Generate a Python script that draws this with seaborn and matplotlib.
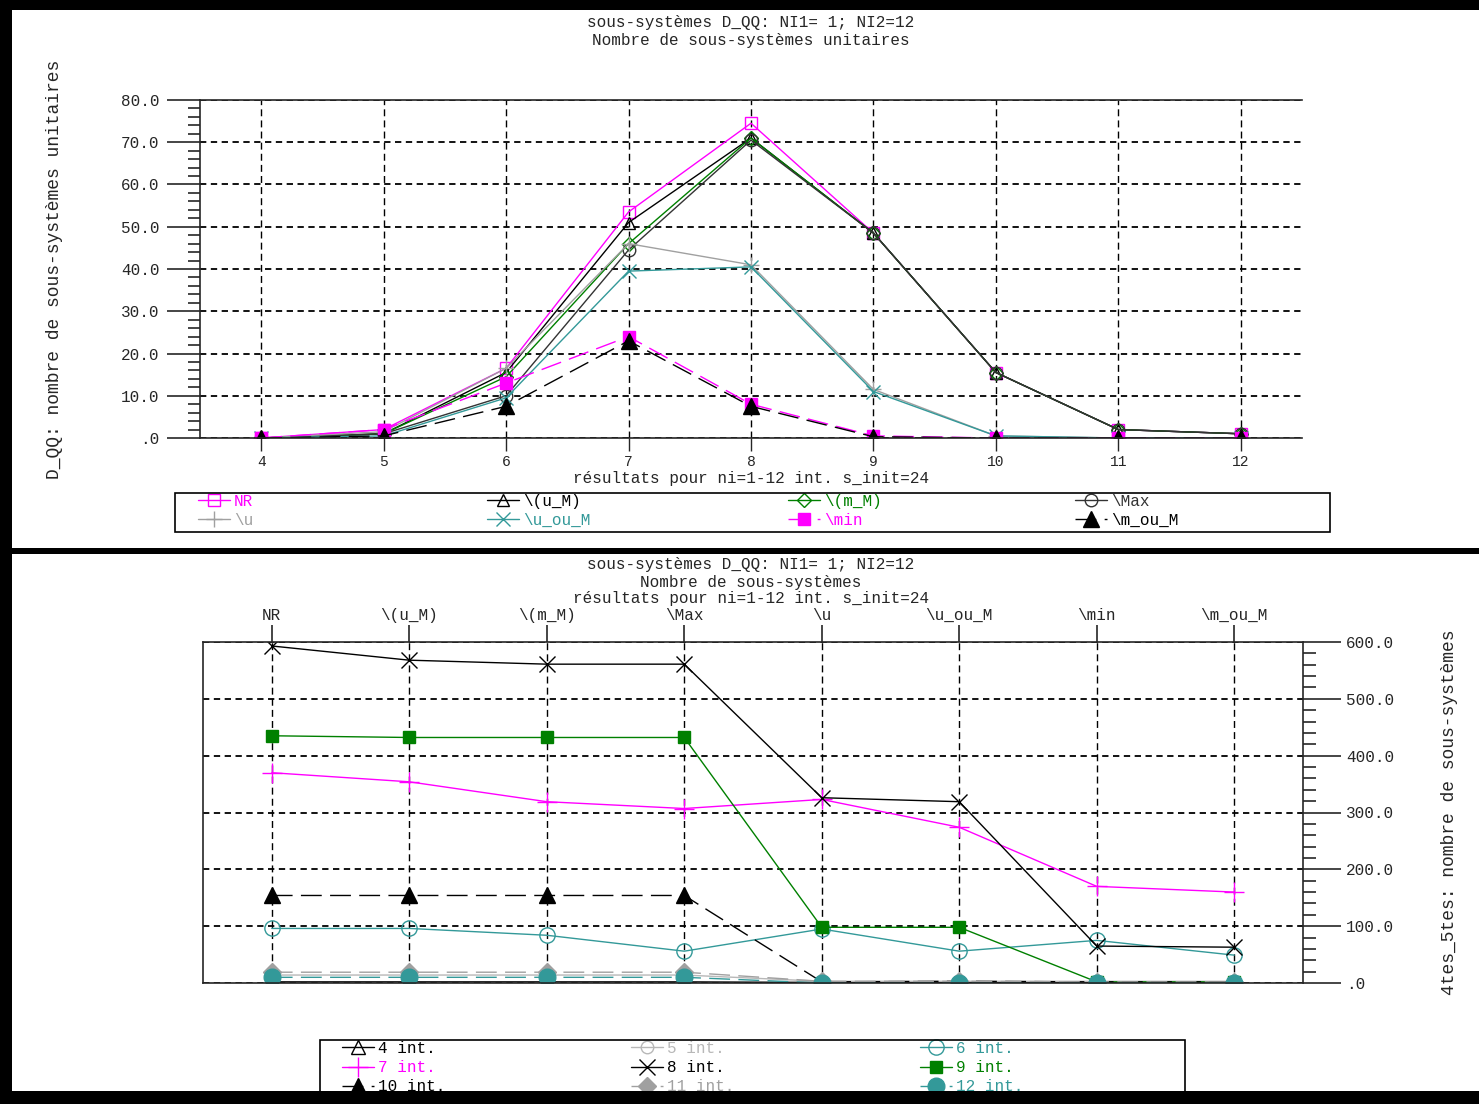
import matplotlib
matplotlib.use('Agg')
import matplotlib.pyplot as plt
import seaborn as sns
from matplotlib.ticker import MultipleLocator, FuncFormatter
from matplotlib.patches import Rectangle

# ---- top panel: unit subsystems vs number of intervals ----
ni = [4, 5, 6, 7, 8, 9, 10, 11, 12]
nr = [0, 2, 16.5, 53.5, 74.5, 48.5, 15.5, 2, 1]
u_M = [0, 1, 15.5, 51, 71, 48.5, 15.5, 2, 1]
m_M = [0, 1, 14.5, 46, 71, 48.5, 15.5, 2, 1]
v_max = [0, 1, 10, 44.5, 70.5, 48.5, 15.5, 2, 1]
v_u = [0, 1.5, 16.5, 46, 41, 11.5, 0.5, 0, 0]
u_ou_M = [0, 0.5, 9.5, 39.5, 40.5, 11, 0.5, 0, 0]
v_min = [0, 2, 13, 24, 8, 0.5, 0, 0, 0]
m_ou_M = [0, 0.5, 7.5, 23, 7.5, 0.3, 0, 0, 0]

# ---- bottom panel: subsystems per method ----
methods = ['NR', '\\(u_M)', '\\(m_M)', '\\Max', '\\u', '\\u_ou_M', '\\min', '\\m_ou_M']
int4 = [2, 2, 2, 2, 1, 1, 1, 1]
int5 = [14, 14, 14, 14, 3, 3, 3, 3]
int6 = [96, 96, 84, 56, 95, 56, 75, 49]
int7 = [370, 354, 319, 307, 323, 274, 170, 160]
int8 = [593, 568, 561, 561, 326, 319, 65, 63]
int9 = [435, 432, 432, 432, 98, 98, 2, 2]
int10 = [154, 154, 154, 154, 2, 3, 2, 2]
int11 = [19, 19, 19, 19, 3, 3, 2, 2]
int12 = [10, 10, 10, 10, 0, 0, 0, 0]

MAG = '#ff00ff'
GREEN = '#008000'
TEAL = '#339999'
GRAY = '#a0a0a0'
LGRAY = '#b8b8b8'
DGRAY = '#333333'

sns.set_style('white')
plt.rcParams['font.family'] = ['Liberation Mono', 'DejaVu Sans Mono']
plt.rcParams['font.size'] = 11.5
plt.rcParams['axes.linewidth'] = 1.2

W, H = 1479, 1104
fig = plt.figure(figsize=(W / 100, H / 100), dpi=100)
fig.patch.set_facecolor('white')


def fx(px):
    return px / W


def fy(py):
    return 1 - py / H


def draw(ax, x, y, label, color, marker, ls='-', fill=False, ms=9):
    sns.lineplot(x=x, y=y, ax=ax, color=color, marker=marker, linestyle=ls, lw=1,
                 markersize=ms, markeredgecolor=color,
                 markerfacecolor=color if fill else 'none', markeredgewidth=1,
                 label=label, legend=False)


def fmt(v, p):
    return f'{v:.1f}'.lstrip('0') if v < 1 else f'{v:.1f}'


def column_legends(handles, labels, ncol, xs, ytop, box, spacing):
    # one small legend per column so columns sit where the original puts them
    for c in range(ncol):
        fig.legend(handles[c::ncol], labels[c::ncol], loc='upper left',
                   bbox_to_anchor=(fx(xs[c]), fy(ytop)), frameon=False,
                   borderaxespad=0, borderpad=0, handlelength=2.0, handletextpad=0.25,
                   labelspacing=spacing, labelcolor='linecolor')
    x0, y0, x1, y1 = box
    fig.add_artist(Rectangle((fx(x0), fy(y1)), fx(x1 - x0), (y1 - y0) / H,
                             transform=fig.transFigure, facecolor='none',
                             edgecolor='black', lw=1.2, zorder=6))


def style_grid(ax):
    ax.grid(True, axis='y', which='major', color='black', lw=1.3, ls=(0, (3.5, 2.5)))
    ax.grid(True, axis='x', which='major', color='black', lw=1.0, ls=(0, (5, 3)))


dash = (0, (15, 6))

# ================= top panel =================
ax1 = fig.add_axes([fx(200), fy(438), fx(1302 - 200), (438 - 100) / H])
draw(ax1, ni, nr, 'NR', MAG, 's')
draw(ax1, ni, u_M, '\\(u_M)', 'black', '^')
draw(ax1, ni, m_M, '\\(m_M)', GREEN, 'D', ms=7)
draw(ax1, ni, v_max, '\\Max', DGRAY, 'o')
draw(ax1, ni, v_u, '\\u', GRAY, '+', ms=11)
draw(ax1, ni, u_ou_M, '\\u_ou_M', TEAL, 'x', ms=10)
draw(ax1, ni, v_min, '\\min', MAG, 's', ls=dash, fill=True)
draw(ax1, ni, m_ou_M, '\\m_ou_M', 'black', '^', ls=dash, fill=True, ms=11)

ax1.set_xlim(3.5, 12.5)
ax1.set_ylim(0, 80)
ax1.set_xticks(ni)
ax1.yaxis.set_major_locator(MultipleLocator(10))
ax1.yaxis.set_minor_locator(MultipleLocator(2))
ax1.yaxis.set_major_formatter(FuncFormatter(fmt))
style_grid(ax1)
ax1.spines['right'].set_visible(False)
ax1.tick_params(axis='y', which='major', length=24, width=1.2, pad=5, direction='out', left=True)
ax1.tick_params(axis='y', which='minor', length=9, width=1.2, direction='out', left=True)
ax1.tick_params(axis='x', which='major', length=9, width=1, pad=3, direction='out', bottom=True, labelsize=10.5)
ax1.set_xlabel('résultats pour ni=1-12 int. s_init=24')
ax1.xaxis.set_label_coords(0.5, -0.098)
ax1.set_ylabel('D_QQ: nombre de sous-systèmes unitaires', fontsize=13)
ax1.yaxis.set_label_coords(-0.124, 0.5)

fig.text(fx(751), fy(22), 'sous-systèmes D_QQ: NI1= 1; NI2=12', ha='center', va='center')
fig.text(fx(751), fy(40), 'Nombre de sous-systèmes unitaires', ha='center', va='center')

h, l = ax1.get_legend_handles_labels()
column_legends(h, l, 4, [198, 487, 788, 1075], 494, (175, 493, 1330, 532), 0.22)

# ================= bottom panel =================
ax2 = fig.add_axes([fx(203), fy(983), fx(1303 - 203), (983 - 642) / H])
pos = list(range(len(methods)))
draw(ax2, pos, int4, '4 int.', 'black', '^', ms=10)
draw(ax2, pos, int5, '5 int.', LGRAY, 'o', ms=9)
draw(ax2, pos, int6, '6 int.', TEAL, 'o', ms=11)
draw(ax2, pos, int7, '7 int.', MAG, '+', ms=14)
draw(ax2, pos, int8, '8 int.', 'black', 'x', ms=12)
draw(ax2, pos, int9, '9 int.', GREEN, 's', fill=True, ms=9)
draw(ax2, pos, int10, '10 int.', 'black', '^', ls=dash, fill=True, ms=12)
draw(ax2, pos, int11, '11 int.', GRAY, 'D', ls=dash, fill=True, ms=9)
draw(ax2, pos, int12, '12 int.', TEAL, 'o', ls=dash, fill=True, ms=12)

ax2.set_xlim(-0.5, 7.5)
ax2.set_ylim(0, 600)
ax2.set_xticks(pos)
ax2.set_xticklabels(methods)
ax2.xaxis.tick_top()
ax2.yaxis.tick_right()
ax2.yaxis.set_label_position('right')
ax2.yaxis.set_major_locator(MultipleLocator(100))
ax2.yaxis.set_minor_locator(MultipleLocator(20))
ax2.yaxis.set_major_formatter(FuncFormatter(fmt))
style_grid(ax2)
ax2.tick_params(axis='y', which='major', length=27, width=1.2, pad=4, direction='out',
                right=True, left=False, labelright=True, labelleft=False)
ax2.tick_params(axis='y', which='minor', length=9, width=1.2, direction='out', right=True, left=False)
ax2.tick_params(axis='x', which='major', length=12, width=1.2, pad=1.5, direction='out',
                top=True, bottom=False, labeltop=True, labelbottom=False)
ax2.set_ylabel('4tes_5tes: nombre de sous-systèmes', fontsize=13, rotation=90)
ax2.yaxis.set_label_coords(1.125, 0.5)

fig.text(fx(751), fy(565), 'sous-systèmes D_QQ: NI1= 1; NI2=12', ha='center', va='center')
fig.text(fx(751), fy(582), 'Nombre de sous-systèmes', ha='center', va='center')
fig.text(fx(751), fy(598), 'résultats pour ni=1-12 int. s_init=24', ha='center', va='center')

h2, l2 = ax2.get_legend_handles_labels()
column_legends(h2, l2, 3, [342, 631, 920], 1041, (320, 1040, 1185, 1110), 0.26)

# black frame bands of the original screen capture
for (x0, y0, w, hh) in [(0, 0, W, 10), (0, 0, 12, H), (12, 548, W, 6), (0, 1091, W, 13)]:
    fig.add_artist(Rectangle((fx(x0), fy(y0 + hh)), fx(w), hh / H, transform=fig.transFigure,
                             facecolor='black', edgecolor='none', zorder=20))

fig.savefig('out.png', dpi=100)
